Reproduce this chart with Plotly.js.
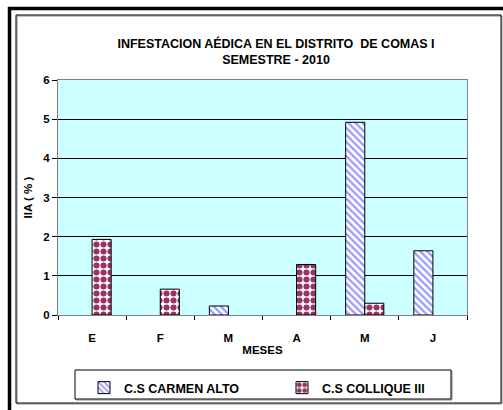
<!DOCTYPE html>
<html>
<head>
<meta charset="utf-8">
<script src="https://cdn.plot.ly/plotly-3.0.1.min.js"></script>
<style>
  body { margin: 0; background: #fff; }
  #plot { width: 503px; height: 410px; }
</style>
</head>
<body>
<div id="plot"></div>
<script>
// meses (E..J) e IIA (%) por establecimiento
const meses = ['E', 'F', 'M', 'A', 'M', 'J'];
const carmenAlto = [null, null, 0.23, null, 4.92, 1.64];
const colliqueIII = [1.93, 0.66, null, 1.29, 0.30, null];

const idx = meses.map((m, i) => i);

// area del grafico en pixeles
const L = 58, R = 467, T = 80, B = 315;
const W = 503, H = 410;
const px = v => (v - L) / (R - L);
const py = v => (B - v) / (B - T);

const font = { family: 'Liberation Sans, Arial, sans-serif', size: 11.5, color: '#000', weight: 'bold' };

const traceA = {
  type: 'bar', x: idx, y: carmenAlto, name: 'C.S CARMEN ALTO',
  marker: {
    color: '#ffffff',
    line: { color: '#000', width: 1 },
    pattern: { shape: '\\', fgcolor: '#9999ff', bgcolor: '#ffffff', size: 5, solidity: 0.45 }
  }
};
const traceB = {
  type: 'bar', x: idx, y: colliqueIII, name: 'C.S COLLIQUE III',
  marker: {
    color: '#993366',
    line: { color: '#000', width: 1 },
    pattern: { shape: '.', fgcolor: '#993366', bgcolor: '#ffffff', size: 7, solidity: 0.6 }
  }
};

// marco del grafico y caja de la leyenda
const shapes = [
  { type: 'line', xref: 'paper', yref: 'paper', x0: px(8), x1: px(503), y0: py(8.5), y1: py(8.5), line: { color: '#000', width: 3.5 } },
  { type: 'line', xref: 'paper', yref: 'paper', x0: px(9.5), x1: px(9.5), y0: py(7), y1: py(410), line: { color: '#000', width: 3.5 } },
  { type: 'rect', xref: 'paper', yref: 'paper', x0: px(17), x1: px(502), y0: py(16), y1: py(404), line: { color: '#888', width: 1 } },
  { type: 'rect', xref: 'paper', yref: 'paper', x0: px(16), x1: px(501), y0: py(15), y1: py(403), line: { color: '#000', width: 1 } },
  { type: 'rect', xref: 'paper', yref: 'paper', x0: px(76), x1: px(452), y0: py(371), y1: py(400), line: { color: '#888', width: 1 } },
  { type: 'rect', xref: 'paper', yref: 'paper', x0: px(75), x1: px(451), y0: py(370), y1: py(399), fillcolor: '#fff', line: { color: '#000', width: 1 } }
];

const layout = {
  width: W, height: H,
  margin: { l: L, r: W - R, t: T, b: H - B, autoexpand: false },
  paper_bgcolor: 'rgba(0,0,0,0)',
  plot_bgcolor: '#ccffff',
  font: font,
  barmode: 'group',
  bargap: 0.44,
  bargroupgap: 0,
  showlegend: true,
  title: {
    text: 'INFESTACION AÉDICA EN EL DISTRITO  DE COMAS I<br>SEMESTRE - 2010',
    font: { family: font.family, size: 12.5, color: '#000', weight: 'bold' },
    xref: 'container', x: 276 / W, xanchor: 'center',
    yref: 'container', y: 1 - 48 / H, yanchor: 'top'
  },
  xaxis: {
    range: [-0.5, 5.5],
    tickmode: 'array', tickvals: idx, ticktext: meses,
    ticks: '',
    ticklabelstandoff: 12,
    minor: { tick0: -0.5, dtick: 1, ticks: 'outside', ticklen: 4, tickcolor: '#000' },
    showline: true, linecolor: '#808080', mirror: true,
    showgrid: false, zeroline: false,
    title: { text: 'MESES', font: { size: 11.5 }, standoff: 3 },
    fixedrange: true
  },
  yaxis: {
    range: [0, 6], dtick: 1,
    tickformat: 'd',
    ticks: 'outside', ticklen: 5, tickcolor: '#000',
    showline: true, linecolor: '#808080', mirror: true,
    showgrid: true, gridcolor: '#000', gridwidth: 1,
    zeroline: false,
    title: { text: 'IIA ( % )', font: { size: 11.5 }, standoff: 8 },
    fixedrange: true
  },
  legend: {
    orientation: 'h',
    x: px(84), xanchor: 'left',
    y: py(373), yanchor: 'top',
    bgcolor: 'rgba(0,0,0,0)', borderwidth: 0,
    font: { family: font.family, size: 12.5, color: '#000', weight: 'bold' },
    entrywidth: 153,
    traceorder: 'normal'
  },
  shapes: shapes
};

Plotly.newPlot('plot', [traceA, traceB], layout, { displayModeBar: false, staticPlot: true });
</script>
</body>
</html>
